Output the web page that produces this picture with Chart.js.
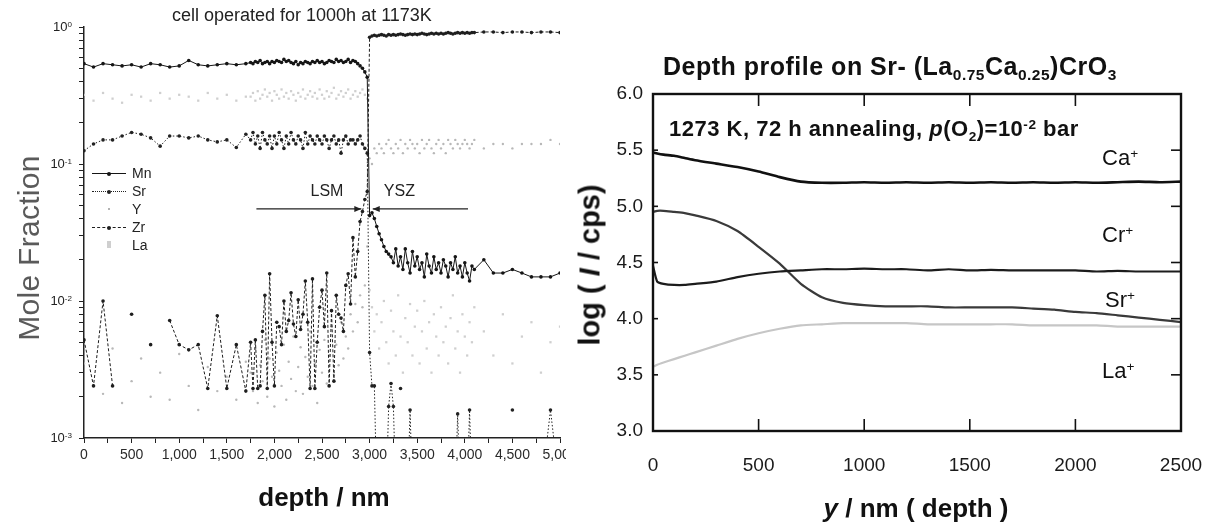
<!DOCTYPE html>
<html><head><meta charset="utf-8">
<script src="https://cdn.jsdelivr.net/npm/chart.js@4.4.0/dist/chart.umd.min.js"></script>
<style>
html,body{margin:0;padding:0;background:#fff;}
#wrap{position:relative;width:1212px;height:527px;overflow:hidden;background:#fff;font-family:"Liberation Sans",Arial,sans-serif;}
canvas{position:absolute;}
.t{position:absolute;white-space:nowrap;color:#111;line-height:1;}
.t sub{font-size:62%;vertical-align:baseline;position:relative;top:0.35em;}
.t sup{font-size:62%;vertical-align:baseline;position:relative;top:-0.55em;}
.leg{position:absolute;font-size:14px;color:#222;line-height:1;}
</style></head><body>
<div id="wrap">
<canvas id="c1" width="566" height="527" style="left:0;top:0;width:566px;height:527px"></canvas>
<canvas id="c2" width="632" height="527" style="left:580px;top:0;width:632px;height:527px"></canvas>

<div class="t" style="left:172px;top:6px;font-size:18px;color:#222">cell operated for 1000h at 1173K</div>
<div class="t" style="left:29px;top:248px;transform:translate(-50%,-50%) rotate(-90deg);font-size:30px;color:#5a5a5a;letter-spacing:0.3px">Mole Fraction</div>
<div class="t" style="left:324px;top:497px;transform:translate(-50%,-50%);font-size:26px;font-weight:bold;color:#111">depth / nm</div>

<div class="t" style="left:663px;top:54px;font-size:25px;font-weight:bold;letter-spacing:0.5px">Depth profile on Sr- (La<sub>0.75</sub>Ca<sub>0.25</sub>)CrO<sub>3</sub></div>
<div class="t" style="left:669px;top:118px;font-size:22px;font-weight:bold;letter-spacing:0.5px">1273 K, 72 h annealing, <i>p</i>(O<sub>2</sub>)=10<sup>-2</sup> bar</div>
<div class="t" style="left:1102px;top:147px;font-size:22px">Ca<sup>+</sup></div>
<div class="t" style="left:1102px;top:224px;font-size:22px">Cr<sup>+</sup></div>
<div class="t" style="left:1105px;top:289px;font-size:22px">Sr<sup>+</sup></div>
<div class="t" style="left:1102px;top:360px;font-size:22px">La<sup>+</sup></div>
<div class="t" style="left:590px;top:265px;transform:translate(-50%,-50%) rotate(-90deg);font-size:29px;font-weight:bold">log ( <i>I</i> / cps)</div>
<div class="t" style="left:916px;top:508px;transform:translate(-50%,-50%);font-size:26px;font-weight:bold"><i>y</i> / nm ( depth )</div>
<div id="overlay"></div>
</div>
<script>
// ---------------- Left panel data ----------------
const xTickLabels = ['0','500','1,000','1,500','2,000','2,500','3,000','3,500','4,000','4,500','5,000'];
const yDecades = [1, 0.1, 0.01, 0.001];
const yDecadeExp = ['0','-1','-2','-3'];
const legendNames = ['Mn','Sr','Y','Zr','La'];

const depth = [
  0,100,200,300,400,500,600,700,800,900,
  1000,1100,1200,1300,1400,1500,1600,1700,
  1750,1775,1800,1825,1850,1875,1900,1925,1950,1975,
  2000,2025,2050,2075,2100,2125,2150,2175,2200,2225,
  2250,2275,2300,2325,2350,2375,2400,2425,2450,2475,
  2500,2525,2550,2575,2600,2625,2650,2675,2700,2725,
  2750,2775,2800,2825,2850,2875,2900,2925,2950,2975,
  3000,3025,3050,3075,3100,3125,3150,3175,3200,3225,
  3250,3275,3300,3325,3350,3375,3400,3425,3450,3475,
  3500,3525,3550,3575,3600,3625,3650,3675,3700,3725,
  3750,3775,3800,3825,3850,3875,3900,3925,3950,3975,
  4000,4025,4050,4075,4100,
  4200,4300,4400,4500,4600,4700,4800,4900,5000
];

const mn = [
  0.54,0.51,0.54,0.53,0.52,0.53,0.51,0.54,0.53,0.51,
  0.52,0.57,0.53,0.52,0.53,0.54,0.53,0.54,
  0.55,0.54,0.56,0.55,0.57,0.54,0.55,0.56,0.54,0.56,
  0.55,0.57,0.56,0.55,0.58,0.56,0.57,0.55,0.54,0.56,
  0.53,0.55,0.54,0.56,0.55,0.54,0.56,0.55,0.57,0.55,
  0.56,0.54,0.55,0.57,0.56,0.55,0.58,0.56,0.57,0.55,
  0.56,0.58,0.55,0.57,0.56,0.54,0.52,0.50,0.47,0.43,
  0.042,0.044,0.040,0.035,0.031,0.028,0.025,0.023,0.022,0.021,
  0.019,0.024,0.018,0.021,0.017,0.024,0.019,0.016,0.023,0.018,
  0.021,0.017,0.019,0.015,0.022,0.018,0.016,0.021,0.017,0.019,
  0.016,0.020,0.018,0.015,0.019,0.017,0.021,0.016,0.018,0.015,
  0.019,0.016,0.014,0.018,0.017,
  0.020,0.016,0.016,0.017,0.016,0.015,0.015,0.015,0.016
];

const sr = [
  0.125,0.14,0.15,0.15,0.16,0.17,0.165,0.155,0.135,0.16,
  0.16,0.155,0.16,0.15,0.145,0.15,0.132,0.165,
  0.15,0.17,0.14,0.16,0.13,0.17,0.15,0.14,0.16,0.13,
  0.16,0.14,0.17,0.15,0.13,0.16,0.14,0.17,0.15,0.14,
  0.16,0.15,0.13,0.17,0.14,0.16,0.15,0.14,0.16,0.15,
  0.14,0.16,0.15,0.13,0.15,0.16,0.14,0.15,0.12,0.15,
  0.16,0.14,0.15,0.15,0.14,0.15,0.16,0.14,0.13,0.12,
  0.0042,0.0024,0.0024,0.0004,null,null,null,0.0004,0.0017,0.0025,
  0.0017,0.0004,null,0.0023,null,null,0.0004,0.0016,0.0004,null,
  null,null,null,null,null,null,null,null,null,null,
  null,null,null,null,null,null,0.0004,0.0015,0.0004,null,
  null,0.0004,0.0016,0.0004,null,
  null,null,null,0.0016,null,null,0.0004,0.0016,0.0004
];

const yEl = [
  0.0035,null,0.0021,0.0045,0.0018,0.0026,0.0038,0.0020,0.0030,0.0019,
  0.0041,0.0024,0.0016,0.0033,0.0022,0.0028,0.0019,0.0036,
  0.0030,0.0022,0.0045,0.0018,0.0034,0.0026,0.0052,0.0020,0.0038,0.0028,
  0.0017,0.0042,0.0031,0.0024,0.0048,0.0019,0.0036,0.0027,0.0055,0.0022,
  0.0033,0.0046,0.0021,0.0039,0.0028,0.0060,0.0024,0.0035,0.0018,0.0044,
  0.0030,0.0052,0.0025,0.0040,0.0065,0.0029,0.0048,0.0034,0.0070,0.0038,
  0.0055,0.0045,0.0080,0.0060,0.0095,0.0070,0.0110,0.0090,0.0130,0.0250,
  0.11,0.10,0.13,0.12,0.14,0.13,0.12,0.14,0.15,0.13,
  0.12,0.14,0.13,0.15,0.12,0.14,0.13,0.15,0.14,0.13,
  0.14,0.12,0.15,0.13,0.14,0.15,0.13,0.12,0.14,0.15,
  0.13,0.14,0.12,0.15,0.14,0.13,0.15,0.14,0.13,0.14,
  0.15,0.14,0.13,0.14,0.15,
  0.13,0.14,0.14,0.13,0.14,0.14,0.14,0.15,0.14
];

const zr = [
  0.0052,0.0024,0.0100,0.0024,null,0.0080,null,0.0048,null,0.0072,
  0.0048,0.0044,0.0048,0.0023,0.0078,0.0023,0.0048,0.0022,
  0.0050,0.0023,0.0052,0.0023,0.0024,0.0060,0.0110,0.0023,0.0158,0.0050,
  0.0024,0.0070,0.0065,0.0048,0.0100,0.0060,0.0072,0.0115,0.0068,0.0055,
  0.0102,0.0062,0.0080,0.0140,0.0070,0.0023,0.0145,0.0023,0.0050,0.0090,
  0.0120,0.0065,0.0160,0.0024,0.0085,0.0026,0.0110,0.0080,0.0075,0.0060,
  0.0130,0.0158,0.0095,0.0290,0.0150,0.0230,0.0380,0.0450,0.0550,0.0630,
  0.84,0.86,0.87,0.86,0.87,0.88,0.87,0.86,0.88,0.87,
  0.88,0.87,0.88,0.89,0.88,0.87,0.88,0.89,0.88,0.89,
  0.88,0.89,0.90,0.89,0.88,0.89,0.90,0.89,0.90,0.89,
  0.90,0.89,0.90,0.91,0.90,0.89,0.90,0.91,0.90,0.91,
  0.90,0.91,0.90,0.91,0.91,
  0.92,0.92,0.91,0.92,0.92,0.91,0.92,0.92,0.91
];

const la = [
  0.32,0.29,0.33,0.30,0.28,0.32,0.31,0.29,0.33,0.30,
  0.32,0.31,0.29,0.33,0.30,0.32,0.29,0.31,
  0.31,0.33,0.29,0.34,0.30,0.32,0.35,0.31,0.33,0.29,
  0.34,0.32,0.30,0.35,0.31,0.33,0.30,0.34,0.32,0.29,
  0.33,0.31,0.35,0.30,0.32,0.34,0.31,0.33,0.30,0.35,
  0.32,0.30,0.34,0.31,0.33,0.36,0.30,0.32,0.34,0.31,
  0.33,0.35,0.30,0.32,0.34,0.31,0.33,0.35,0.32,0.30,
  0.012,0.0090,0.0060,0.0080,0.0045,0.0070,0.0100,0.0050,0.0035,0.0085,
  0.0060,0.0040,0.0110,0.0055,0.0030,0.0075,0.0050,0.0095,0.0040,0.0065,
  0.0085,0.0035,0.0060,0.0100,0.0045,0.0070,0.0030,0.0080,0.0055,0.0040,
  0.0090,0.0050,0.0065,0.0035,0.0075,0.0110,0.0045,0.0060,0.0030,0.0080,
  0.0055,0.0040,0.0070,0.0050,0.0090,
  0.0060,0.0040,0.0080,0.0035,0.0055,0.0070,0.0030,0.0050,0.0065
];

// interface annotation (depth in nm, level in mole fraction)
const lsmArrow = [1811, 2913];
const yszArrow = [4034, 3033];
const arrowLevel = 0.047;
const lsmLabel = {text:'LSM', x:2552, y:0.064};
const yszLabel = {text:'YSZ', x:3313, y:0.064};

// ---------------- Right panel data ----------------
const rXTickLabels = ['0','500','1000','1500','2000','2500'];
const rDepth = [0,20,50,100,150,200,300,400,500,600,700,800,900,1000,1100,1200,1300,1400,1500,1600,1700,1800,1900,2000,2100,2200,2300,2400,2500];
const caI = [5.48,5.47,5.46,5.45,5.43,5.41,5.38,5.35,5.31,5.26,5.22,5.21,5.21,5.215,5.21,5.215,5.21,5.215,5.21,5.215,5.21,5.215,5.21,5.215,5.21,5.215,5.22,5.215,5.22];
const crI = [4.95,4.96,4.96,4.95,4.94,4.92,4.87,4.78,4.64,4.49,4.31,4.19,4.14,4.12,4.11,4.11,4.11,4.10,4.10,4.10,4.10,4.09,4.08,4.06,4.05,4.03,4.01,3.99,3.97];
const srI = [4.47,4.33,4.31,4.30,4.30,4.31,4.33,4.37,4.40,4.42,4.43,4.44,4.44,4.445,4.44,4.44,4.43,4.44,4.43,4.435,4.43,4.43,4.43,4.43,4.42,4.425,4.42,4.42,4.42];
const laI = [3.57,3.59,3.61,3.64,3.67,3.70,3.76,3.82,3.87,3.91,3.94,3.95,3.96,3.96,3.96,3.96,3.95,3.95,3.95,3.95,3.95,3.94,3.94,3.94,3.94,3.93,3.93,3.93,3.93];
const rXMinor = [500,1000,1500,2000];
const rYMinor = [3.5,4.0,4.5,5.0,5.5];

// ---------------- Left chart ----------------
const FONT = 'Liberation Sans';
function pts(xs, vals){ return xs.map((d,i)=>({x:d, y: vals[i]})); }
const yTicksAll = [];
[0.001,0.01,0.1].forEach(dec=>{ for(let m=1;m<10;m++) yTicksAll.push(+(dec*m).toPrecision(3)); });
yTicksAll.push(1);

const arrowPlugin = {
  id:'arrows',
  afterDatasetsDraw(c){
    const {ctx, scales:{x,y}} = c;
    const py = y.getPixelForValue(arrowLevel);
    ctx.save(); ctx.strokeStyle='#222'; ctx.fillStyle='#222'; ctx.lineWidth=1.2;
    [lsmArrow, yszArrow].forEach(([a,b])=>{
      const xa = x.getPixelForValue(a), xb = x.getPixelForValue(b);
      ctx.beginPath(); ctx.moveTo(xa,py); ctx.lineTo(xb,py); ctx.stroke();
      const dir = Math.sign(xb-xa);
      ctx.beginPath(); ctx.moveTo(xb,py); ctx.lineTo(xb-dir*7,py-3); ctx.lineTo(xb-dir*7,py+3); ctx.closePath(); ctx.fill();
    });
    ctx.restore();
  }
};

const c1 = new Chart(document.getElementById('c1'), {
  type:'scatter',
  data:{datasets:[
    {label:'Mn', data:pts(depth,mn), showLine:true, spanGaps:false, borderColor:'#151515', backgroundColor:'#151515', borderWidth:1, pointRadius:1.8, pointBorderWidth:0},
    {label:'Sr', data:pts(depth,sr), showLine:true, spanGaps:false, borderColor:'#222', backgroundColor:'#222', borderWidth:1, borderDash:[1.5,2], pointRadius:1.8, pointBorderWidth:0},
    {label:'Zr', data:pts(depth,zr), showLine:true, spanGaps:false, borderColor:'#1e1e1e', backgroundColor:'#1e1e1e', borderWidth:1, borderDash:[3,2], pointRadius:1.8, pointBorderWidth:0},
    {label:'Y', data:pts(depth,yEl), showLine:false, backgroundColor:'#b8b8b8', borderColor:'#b8b8b8', pointRadius:1.2, pointBorderWidth:0},
    {label:'La', data:pts(depth,la), showLine:false, backgroundColor:'#cfcfcf', borderColor:'#cfcfcf', pointStyle:'rect', pointRadius:1.6, pointBorderWidth:0}
  ]},
  options:{
    responsive:false, animation:false, events:[],
    layout:{padding:{left:0,right:6,top:27,bottom:0}},
    plugins:{legend:{display:false}, tooltip:{enabled:false}},
    scales:{
      x:{type:'linear', min:0, max:5000,
        ticks:{stepSize:250, autoSkip:false, maxRotation:0, minRotation:0, color:'#2a2a2a', font:{family:FONT,size:14}, padding:4,
          callback:(v)=> (v%500===0 ? xTickLabels[v/500] : '')},
        grid:{drawOnChartArea:false, drawTicks:true, tickLength:5, color:'#222', lineWidth:1},
        border:{display:true, color:'#222', width:1.5},
        afterFit(s){ s.height=89; s.paddingLeft=0; s.paddingRight=0; }
      },
      y:{type:'logarithmic', min:0.001, max:1,
        afterBuildTicks(s){ s.ticks = yTicksAll.map(v=>({value:v})); },
        ticks:{display:false},
        grid:{drawOnChartArea:false, drawTicks:true, tickLength:5, color:'#222', lineWidth:1},
        border:{display:true, color:'#222', width:1.5},
        afterFit(s){ s.width=84; s.paddingTop=0; s.paddingBottom=0; }
      }
    }
  },
  plugins:[arrowPlugin]
});

// ---------------- Right chart ----------------
const framePlugin = {
  id:'frame',
  afterDraw(c){
    const {ctx, chartArea:a, scales:{x,y}} = c;
    ctx.save(); ctx.strokeStyle='#111'; ctx.lineWidth=2.4;
    ctx.strokeRect(a.left,a.top,a.right-a.left,a.bottom-a.top);
    ctx.lineWidth=1.6;
    const ln=(x1,y1,x2,y2)=>{ctx.beginPath();ctx.moveTo(x1,y1);ctx.lineTo(x2,y2);ctx.stroke();};
    rXMinor.forEach(v=>{const px=x.getPixelForValue(v); ln(px,a.bottom,px,a.bottom-12); ln(px,a.top,px,a.top+12);});
    rYMinor.forEach(v=>{const py=y.getPixelForValue(v); ln(a.right,py,a.right-10,py); ln(a.left,py,a.left+5,py);});
    ctx.restore();
  }
};

const c2 = new Chart(document.getElementById('c2'), {
  type:'scatter',
  data:{datasets:[
    {label:'Ca+', data:pts(rDepth,caI), showLine:true, borderColor:'#111', borderWidth:2.6, pointRadius:0, tension:0.2},
    {label:'Sr+', data:pts(rDepth,srI), showLine:true, borderColor:'#1c1c1c', borderWidth:2.2, pointRadius:0, tension:0.2},
    {label:'Cr+', data:pts(rDepth,crI), showLine:true, borderColor:'#3a3a3a', borderWidth:2.2, pointRadius:0, tension:0.2},
    {label:'La+', data:pts(rDepth,laI), showLine:true, borderColor:'#c6c6c6', borderWidth:2.2, pointRadius:0, tension:0.2}
  ]},
  options:{
    responsive:false, animation:false, events:[],
    layout:{padding:{left:0,right:31,top:94,bottom:0}},
    plugins:{legend:{display:false}, tooltip:{enabled:false}},
    scales:{
      x:{type:'linear', min:0, max:2500,
        ticks:{stepSize:500, autoSkip:false, maxRotation:0, color:'#1a1a1a', font:{family:FONT,size:19}, padding:23,
          callback:(v)=> (v%500===0 ? rXTickLabels[v/500] : '')},
        grid:{display:false, drawTicks:false},
        border:{display:false},
        afterFit(s){ s.height=96; s.paddingLeft=0; s.paddingRight=0; }
      },
      y:{type:'linear', min:3, max:6,
        ticks:{stepSize:0.5, color:'#1a1a1a', font:{family:FONT,size:19}, padding:10, callback:(v)=> v.toFixed(1)},
        grid:{display:false, drawTicks:false},
        border:{display:false},
        afterFit(s){ s.width=73; s.paddingTop=0; s.paddingBottom=0; }
      }
    }
  },
  plugins:[framePlugin]
});

// ---------------- HTML labels positioned through the left chart's scales ----------------
const ov = document.getElementById('overlay');
const sx = c1.scales.x, sy = c1.scales.y;
yDecades.forEach((v,i)=>{
  const d = document.createElement('div');
  d.className='t';
  d.style.cssText = `left:0;width:72px;text-align:right;top:${sy.getPixelForValue(v)-7}px;font-size:13px;color:#222`;
  d.innerHTML = `10<sup>${yDecadeExp[i]}</sup>`;
  ov.appendChild(d);
});
[lsmLabel, yszLabel].forEach(l=>{
  const d = document.createElement('div');
  d.className='t';
  d.style.cssText = `left:${sx.getPixelForValue(l.x)}px;top:${sy.getPixelForValue(l.y)}px;transform:translate(-50%,-50%);font-size:16px;color:#222`;
  d.textContent = l.text;
  ov.appendChild(d);
});
// legend
const legStyles = [
  {line:'solid', dot:'circle', col:'#151515'},
  {line:'dotted', dot:'circle', col:'#222'},
  {line:'none', dot:'small', col:'#9a9a9a'},
  {line:'dashed', dot:'circle', col:'#1e1e1e'},
  {line:'none', dot:'rect', col:'#cfcfcf'}
];
legendNames.forEach((n,i)=>{
  const top = 173 + i*18;
  const s = legStyles[i];
  const box = document.createElement('div');
  box.style.cssText = `position:absolute;left:92px;top:${top}px;width:34px;height:0;`;
  if (s.line!=='none') box.style.borderTop = `1px ${s.line} ${s.col}`;
  const dot = document.createElement('div');
  const sz = s.dot==='small'?2:4;
  dot.style.cssText = `position:absolute;left:${17-sz/2}px;top:${-sz/2-0.5}px;width:${sz}px;height:${s.dot==='rect'?7:sz}px;background:${s.col};border-radius:${s.dot==='rect'?0:50}%`;
  if (s.dot==='rect') dot.style.top = '-4px';
  box.appendChild(dot);
  ov.appendChild(box);
  const t = document.createElement('div');
  t.className='leg';
  t.style.left='132px'; t.style.top=(top-7)+'px';
  t.textContent = n;
  ov.appendChild(t);
});
</script>
</body></html>
